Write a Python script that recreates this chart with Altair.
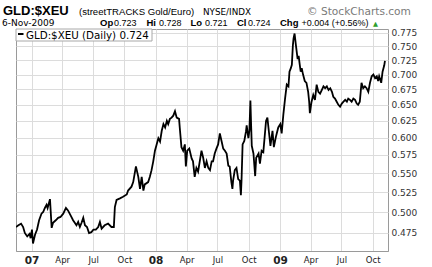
import altair as alt
import pandas as pd

# ---- data ----
dates = [
    "2006-11-16", "2006-11-23", "2006-12-01", "2006-12-07", "2006-12-12", "2006-12-19",
    "2006-12-26", "2006-12-29", "2007-01-02", "2007-01-05", "2007-01-11", "2007-01-17",
    "2007-01-23", "2007-01-30", "2007-02-04", "2007-02-09", "2007-02-14", "2007-02-17",
    "2007-02-24", "2007-03-01", "2007-03-05", "2007-03-13", "2007-03-20", "2007-03-27",
    "2007-04-04", "2007-04-12", "2007-04-18", "2007-04-23", "2007-04-28", "2007-05-03",
    "2007-05-13", "2007-05-18", "2007-05-23", "2007-05-28", "2007-06-02", "2007-06-07",
    "2007-06-13", "2007-06-19", "2007-06-26", "2007-07-02", "2007-07-09", "2007-07-16",
    "2007-07-21", "2007-07-26", "2007-08-04", "2007-08-14", "2007-08-24", "2007-08-31",
    "2007-09-03", "2007-09-08", "2007-09-18", "2007-09-27", "2007-10-08", "2007-10-12",
    "2007-10-22", "2007-10-27", "2007-11-04", "2007-11-11", "2007-11-16", "2007-11-21",
    "2007-11-26", "2007-11-30", "2007-12-10", "2007-12-15", "2007-12-20", "2007-12-25",
    "2007-12-30", "2008-01-04", "2008-01-09", "2008-01-14", "2008-01-19", "2008-01-24",
    "2008-01-29", "2008-02-03", "2008-02-07", "2008-02-12", "2008-02-17", "2008-02-22",
    "2008-02-27", "2008-03-03", "2008-03-10", "2008-03-12", "2008-03-17", "2008-03-22",
    "2008-03-27", "2008-03-30", "2008-04-03", "2008-04-09", "2008-04-16", "2008-04-20",
    "2008-04-25", "2008-04-30", "2008-05-05", "2008-05-15", "2008-05-20", "2008-05-25",
    "2008-05-30", "2008-06-04", "2008-06-09", "2008-06-14", "2008-06-18", "2008-06-23",
    "2008-06-28", "2008-07-03", "2008-07-08", "2008-07-13", "2008-07-18", "2008-07-23",
    "2008-07-28", "2008-08-02", "2008-08-06", "2008-08-11", "2008-08-14", "2008-08-16",
    "2008-08-21", "2008-08-26", "2008-08-31", "2008-09-05", "2008-09-08", "2008-09-10",
    "2008-09-13", "2008-09-18", "2008-09-23", "2008-09-25", "2008-09-30", "2008-10-03",
    "2008-10-06", "2008-10-08", "2008-10-10", "2008-10-15", "2008-10-20", "2008-10-23",
    "2008-10-30", "2008-11-03", "2008-11-08", "2008-11-13", "2008-11-21", "2008-11-25",
    "2008-11-30", "2008-12-04", "2008-12-10", "2008-12-14", "2008-12-20", "2008-12-27",
    "2009-01-02", "2009-01-06", "2009-01-11", "2009-01-16", "2009-01-21", "2009-01-26",
    "2009-01-29", "2009-02-02", "2009-02-05", "2009-02-08", "2009-02-10", "2009-02-13",
    "2009-02-17", "2009-02-22", "2009-02-25", "2009-02-28", "2009-03-03", "2009-03-06",
    "2009-03-10", "2009-03-15", "2009-03-20", "2009-03-25", "2009-03-28", "2009-03-30",
    "2009-04-04", "2009-04-09", "2009-04-14", "2009-04-19", "2009-04-24", "2009-04-29",
    "2009-05-04", "2009-05-09", "2009-05-14", "2009-05-19", "2009-05-24", "2009-05-29",
    "2009-06-03", "2009-06-07", "2009-06-12", "2009-06-17", "2009-06-22", "2009-06-27",
    "2009-07-02", "2009-07-07", "2009-07-12", "2009-07-17", "2009-07-21", "2009-07-26",
    "2009-07-31", "2009-08-05", "2009-08-10", "2009-08-15", "2009-08-19", "2009-08-24",
    "2009-08-29", "2009-09-03", "2009-09-08", "2009-09-13", "2009-09-18", "2009-09-23",
    "2009-09-28", "2009-10-03", "2009-10-08", "2009-10-13", "2009-10-17", "2009-10-20",
    "2009-10-26", "2009-10-30", "2009-11-04", "2009-11-06",
]
values = [
    0.482, 0.484, 0.486, 0.482, 0.475, 0.471,
    0.474, 0.469, 0.479, 0.463, 0.473, 0.479,
    0.490, 0.498, 0.500, 0.505, 0.509, 0.505,
    0.516, 0.481, 0.487, 0.490, 0.493, 0.494,
    0.498, 0.505, 0.502, 0.498, 0.494, 0.490,
    0.484, 0.488, 0.482, 0.487, 0.493, 0.484,
    0.482, 0.475, 0.476, 0.479, 0.479, 0.482,
    0.488, 0.480, 0.484, 0.486, 0.482, 0.482,
    0.506, 0.515, 0.517, 0.519, 0.522, 0.527,
    0.532, 0.538, 0.559, 0.545, 0.529, 0.545,
    0.527, 0.535, 0.538, 0.545, 0.554, 0.566,
    0.581, 0.590, 0.599, 0.594, 0.610, 0.620,
    0.615, 0.625, 0.620, 0.628, 0.630, 0.633,
    0.640, 0.630, 0.628, 0.615, 0.586, 0.581,
    0.590, 0.559, 0.581, 0.584, 0.570, 0.566,
    0.545, 0.557, 0.552, 0.581, 0.571, 0.557,
    0.566, 0.557, 0.554, 0.566, 0.566, 0.577,
    0.584, 0.590, 0.606, 0.595, 0.584, 0.581,
    0.577, 0.560, 0.559, 0.538, 0.529, 0.540,
    0.554, 0.557, 0.542, 0.540, 0.521, 0.542,
    0.590, 0.595, 0.609, 0.618, 0.599, 0.610,
    0.657, 0.620, 0.588, 0.577, 0.546, 0.571,
    0.577, 0.563, 0.581, 0.579, 0.625, 0.630,
    0.606, 0.588, 0.610, 0.586, 0.601, 0.615,
    0.620, 0.606, 0.635, 0.660, 0.683, 0.680,
    0.705, 0.711, 0.717, 0.752, 0.765, 0.774,
    0.752, 0.727, 0.733, 0.718, 0.705, 0.711,
    0.700, 0.689, 0.686, 0.671, 0.655, 0.637,
    0.655, 0.666, 0.658, 0.683, 0.671, 0.668,
    0.674, 0.680, 0.677, 0.680, 0.674, 0.677,
    0.671, 0.663, 0.660, 0.655, 0.650, 0.647,
    0.652, 0.655, 0.658, 0.655, 0.660, 0.658,
    0.655, 0.660, 0.658, 0.652, 0.650, 0.655,
    0.686, 0.677, 0.680, 0.677, 0.671, 0.686,
    0.697, 0.700, 0.694, 0.697, 0.689, 0.697,
    0.686, 0.705, 0.716, 0.724,
]
y_ticks = [0.475, 0.500, 0.525, 0.550, 0.575, 0.600, 0.625, 0.650,
           0.675, 0.700, 0.725, 0.750, 0.775]
tick_years = [2007, 2008, 2009]
tick_months = [1, 4, 7, 10]

title_main = "GLD:$XEU"
title_sub = "(streetTRACKS Gold/Euro)"
title_exch = "NYSE/INDX"
credit = "\u00a9 StockCharts.com"
date_label = "6-Nov-2009"
quote_labels = ["Op", "Hi", "Lo", "Cl", "Chg"]
quote_values = ["0.723", "0.728", "0.721", "0.724", "+0.004 (+0.56%)"]
legend_text = "GLD:$XEU (Daily) 0.724"

df = pd.DataFrame({"date": dates, "value": values})

W, H = 372, 222

x_ticks = [alt.DateTime(year=y, month=m, date=1, utc=True)
           for y in tick_years for m in tick_months]

x_scale = alt.Scale(type="utc",
                    domain=[alt.DateTime(year=2006, month=11, date=16, utc=True),
                            alt.DateTime(year=2009, month=11, date=15, utc=True)])
y_scale = alt.Scale(type="log", domain=[0.4545, 0.7826], nice=False, zero=False)

grid_col = "#dcdcdc"

x_axis = alt.Axis(
    values=x_ticks, title=None, grid=True, gridColor=grid_col, ticks=False,
    domainColor="#9a9a9a",
    labelExpr="utcmonth(datum.value) == 0 ? utcFormat(datum.value, '%y') : utcFormat(datum.value, '%b')",
    labelFontWeight={"condition": {"test": "utcmonth(datum.value) == 0", "value": "bold"}, "value": "normal"},
    labelFontSize={"condition": {"test": "utcmonth(datum.value) == 0", "value": 10.5}, "value": 8.5},
    labelFont="DejaVu Sans", labelColor="#222", labelPadding=4,
    labelOverlap=False, labelFlush=False,
)
y_axis = alt.Axis(
    orient="right", values=y_ticks, format=".3f", title=None, grid=True,
    gridColor=grid_col, ticks=False, domain=False,
    labelFont="DejaVu Sans", labelFontSize=9, labelColor="#333", labelPadding=3,
    labelOverlap=False, labelFlush=False,
)

line = alt.Chart(df).mark_line(color="black", strokeWidth=1.8, clip=True).encode(
    x=alt.X("date:T", scale=x_scale, axis=x_axis),
    y=alt.Y("value:Q", scale=y_scale, axis=y_axis),
)

one = alt.Data(values=[{"k": 1}])


def txt(s, x, y, size, weight="normal", color="#000", font="DejaVu Sans", align="left"):
    return alt.Chart(one).mark_text(
        text=s, align=align, baseline="alphabetic", font=font, fontSize=size,
        fontWeight=weight, color=color,
    ).encode(x=alt.value(x), y=alt.value(y))


legend_box = alt.Chart(one).mark_rect(fill="white", stroke="#a8a8a8", strokeWidth=1).encode(
    x=alt.value(0), x2=alt.value(136), y=alt.value(0), y2=alt.value(12))
legend_dash = alt.Chart(one).mark_rule(color="black", strokeWidth=2).encode(
    x=alt.value(2), x2=alt.value(7.5), y=alt.value(5), y2=alt.value(5))

layers = [line, legend_box, legend_dash,
          txt(legend_text, 10, 9.5, 10.3),
          txt(title_main, -13, -14, 13, "bold", font="Liberation Sans"),
          txt(title_sub, 63, -14, 9.6, font="Liberation Sans"),
          txt(title_exch, 187, -14, 8.8),
          txt(credit, 291, -14, 10.6, color="#7a7a7a"),
          txt(date_label, -14, -3, 9)]

label_x = [84, 130.5, 174.5, 221, 264]
value_x = [98, 143, 189, 232, 285.5]
for lab, lx, val, vx in zip(quote_labels, label_x, quote_values, value_x):
    layers.append(txt(lab, lx, -3, 9.5, "bold", font="Liberation Sans"))
    layers.append(txt(val, vx, -3, 9, font="Liberation Sans"))
layers.append(txt("\u25b2", 357, -3.5, 6.5, color="#2e9e2e"))

chart = alt.layer(*layers).properties(
    width=W, height=H,
    autosize=alt.AutoSizeParams(type="none"),
    padding={"left": 16, "top": 29, "right": 44, "bottom": 16},
    background="white",
).configure_view(stroke="#9a9a9a", strokeWidth=1)

chart.save("out.html", embed_options={"renderer": "svg", "actions": False})
